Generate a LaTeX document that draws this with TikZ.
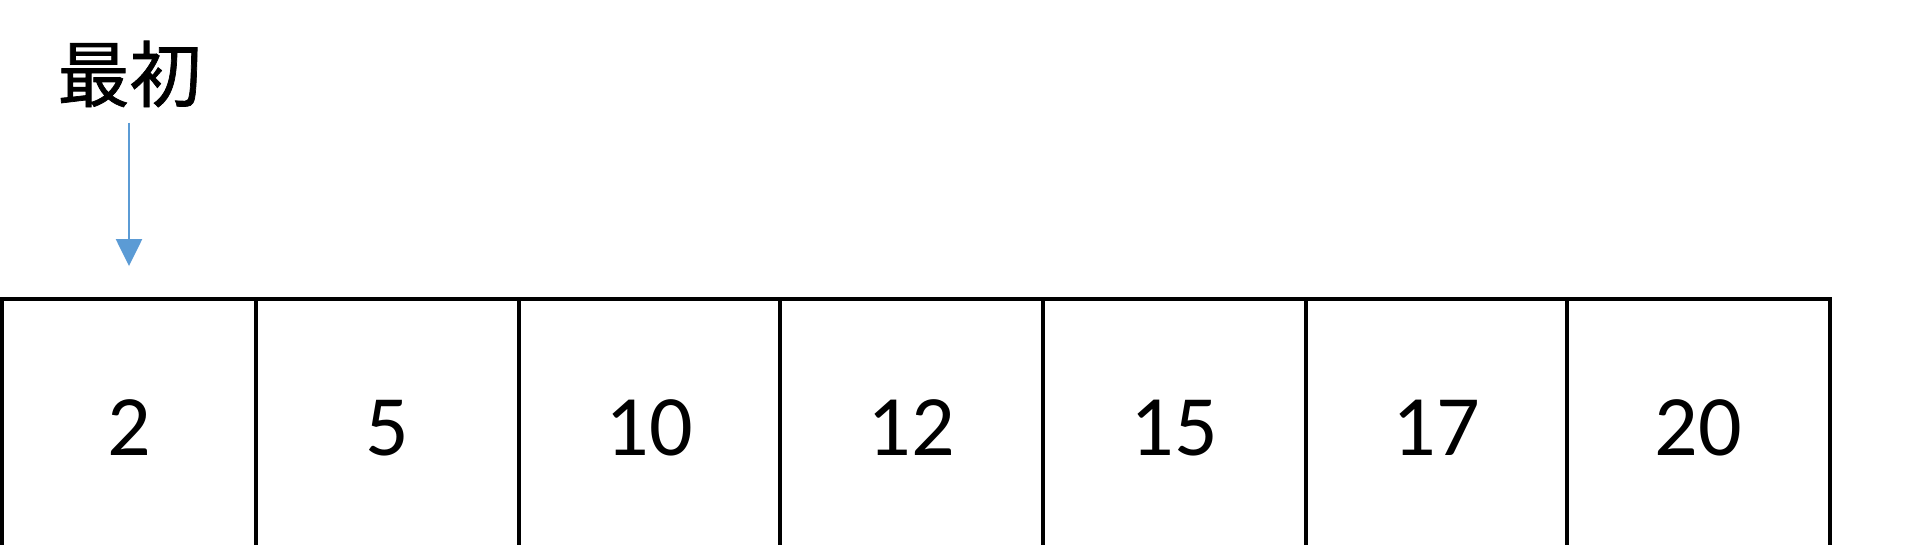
\documentclass[tikz,border=0pt]{standalone}
\usepackage{fontspec}
\setmainfont{Carlito}
\newfontfamily\cjk{Noto Sans CJK JP}[FakeBold=1]
\usepackage{tikz}
\usetikzlibrary{arrows.meta}
\definecolor{ptrblue}{RGB}{91,155,213}
\begin{document}
\begin{tikzpicture}[
		cell/.style={draw, line width=2.2pt, rectangle, inner sep=0pt, minimum height=5.16cm, font=\fontsize{49}{58}\selectfont},
		pointer/.style={draw=ptrblue, line width=1.4pt, -{Triangle[width=0.52cm, length=0.54cm]}, color=ptrblue}
	]
			\useasboundingbox (0,0) rectangle (38.4,10.88);
			\clip (0,0) rectangle (38.4,10.88);
			% Nodes
			\foreach \l/\r/\v [count=\i] in {0.04/5.12/2, 5.12/10.38/5, 10.38/15.6/10, 15.6/20.86/12, 20.86/26.12/15, 26.12/31.34/17, 31.34/36.6/20} {
				\pgfmathsetmacro\w{\r-\l}
				\node[cell, minimum width=\w cm] (cell\i) at ({(\l+\r)/2}, 2.32) {\v};
			}
			\node[inner sep=0pt] (first) at (2.59, 9.4) {\cjk\fontsize{41}{48}\selectfont 最初};
			\draw[pointer, shorten <=0.3cm, shorten >=0.62cm] (first.south -| cell1.north) -- (cell1.north);
		\end{tikzpicture}
\end{document}
